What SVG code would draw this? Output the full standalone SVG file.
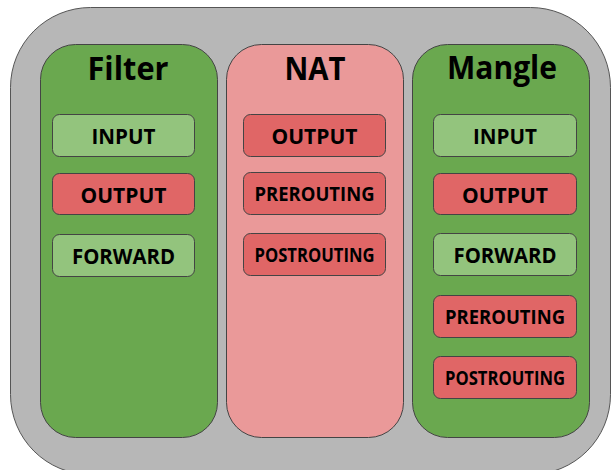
<svg xmlns="http://www.w3.org/2000/svg" width="611" height="470" viewBox="0 0 611 470">
<style>
.outer{fill:#b7b7b7;stroke:#555;stroke-width:1}
.col{stroke:#444;stroke-width:1}
.green{fill:#6aa84f}
.pink{fill:#ea9999}
.box{stroke:#444;stroke-width:1}
.lg{fill:#93c47d}
.red{fill:#e06666}
text{font-family:"Open Sans","Noto Sans","Liberation Sans",sans-serif;font-weight:700;fill:#000;text-anchor:middle}
.title{font-size:32px}
.lbl{font-size:22px}
.sm{font-size:19px}
</style>
<rect class="outer" x="10.5" y="7.5" width="600" height="467" rx="80"/>
<g id="filter">
<rect class="col green" x="40.5" y="44.5" width="177" height="393" rx="35"/>
<text class="title" x="128" y="80" textLength="81" lengthAdjust="spacingAndGlyphs">Filter</text>
</g>
<g id="nat">
<rect class="col pink" x="226.5" y="44.5" width="177" height="393" rx="35"/>
<text class="title" x="315" y="80" textLength="61" lengthAdjust="spacingAndGlyphs">NAT</text>
</g>
<g id="mangle">
<rect class="col green" x="412.5" y="44.5" width="177" height="393" rx="35"/>
<text class="title" x="502" y="79" textLength="110" lengthAdjust="spacingAndGlyphs">Mangle</text>
</g>
<g id="filter-input"><rect class="box lg" x="52.5" y="114.5" width="142" height="42" rx="7"/><text class="lbl" x="123.5" y="144" textLength="64" lengthAdjust="spacingAndGlyphs">INPUT</text></g>
<g id="filter-output"><rect class="box red" x="52.5" y="173.5" width="142" height="41" rx="7"/><text class="lbl" x="123.5" y="202.5" textLength="86" lengthAdjust="spacingAndGlyphs">OUTPUT</text></g>
<g id="filter-forward"><rect class="box lg" x="52.5" y="234.5" width="142" height="42" rx="7"/><text class="lbl" x="123.5" y="263.5" textLength="103" lengthAdjust="spacingAndGlyphs">FORWARD</text></g>
<g id="nat-output"><rect class="box red" x="243.5" y="114.5" width="142" height="42" rx="7"/><text class="lbl" x="314.5" y="144" textLength="86" lengthAdjust="spacingAndGlyphs">OUTPUT</text></g>
<g id="nat-prerouting"><rect class="box red" x="243.5" y="172.5" width="142" height="42" rx="7"/><text class="sm" x="314.5" y="201" textLength="120" lengthAdjust="spacingAndGlyphs">PREROUTING</text></g>
<g id="nat-postrouting"><rect class="box red" x="243.5" y="233.5" width="142" height="42" rx="7"/><text class="sm" x="314.5" y="262" textLength="120" lengthAdjust="spacingAndGlyphs">POSTROUTING</text></g>
<g id="mangle-input"><rect class="box lg" x="433.5" y="114.5" width="143" height="42" rx="7"/><text class="lbl" x="505" y="144" textLength="64" lengthAdjust="spacingAndGlyphs">INPUT</text></g>
<g id="mangle-output"><rect class="box red" x="433.5" y="173.5" width="143" height="41" rx="7"/><text class="lbl" x="505" y="202.5" textLength="86" lengthAdjust="spacingAndGlyphs">OUTPUT</text></g>
<g id="mangle-forward"><rect class="box lg" x="433.5" y="233.5" width="143" height="42" rx="7"/><text class="lbl" x="505" y="263" textLength="103" lengthAdjust="spacingAndGlyphs">FORWARD</text></g>
<g id="mangle-prerouting"><rect class="box red" x="433.5" y="295.5" width="143" height="42" rx="7"/><text class="sm" x="505" y="324" textLength="120" lengthAdjust="spacingAndGlyphs">PREROUTING</text></g>
<g id="mangle-postrouting"><rect class="box red" x="433.5" y="356.5" width="143" height="42" rx="7"/><text class="sm" x="505" y="385" textLength="120" lengthAdjust="spacingAndGlyphs">POSTROUTING</text></g>
<g id="connectors"/>
</svg>
